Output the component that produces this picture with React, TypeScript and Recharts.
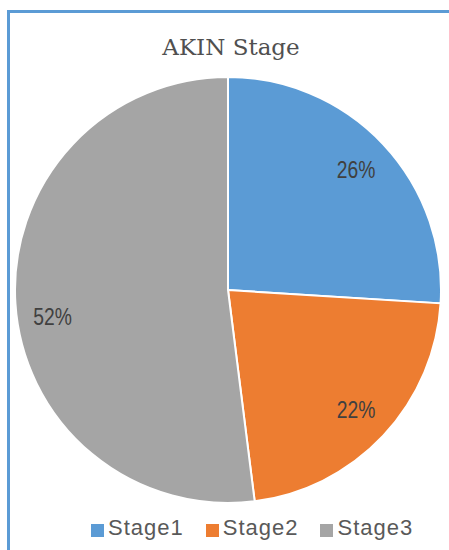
import { PieChart, Pie, Cell, Legend } from "recharts";

const stages = ["Stage1", "Stage2", "Stage3"];
const shares = [26, 22, 52];
const COLORS = ["#5b9bd5", "#ed7d31", "#a5a5a5"];
// Excel's best-fit placement pushes the big slice label a bit lower
const LABEL_NUDGE_Y = [0, 0, 16];

const data = stages.map((name, i) => ({ name, value: shares[i] }));

const RAD = Math.PI / 180;

const renderLabel = (props: any) => {
  const { cx, cy, midAngle, outerRadius, percent, index } = props;
  const r = outerRadius * 0.825;
  const x = cx + r * Math.cos(-midAngle * RAD);
  const y = cy + r * Math.sin(-midAngle * RAD) + (LABEL_NUDGE_Y[index] || 0);
  // narrow look, like the original label font
  return (
    <text
      x={0}
      y={0}
      transform={`translate(${x},${y}) scale(0.84,1)`}
      fill="#404040"
      textAnchor="middle"
      dominantBaseline="central"
      style={{
        fontFamily: "'Liberation Sans', Arial, sans-serif",
        fontSize: 23,
      }}
    >
      {`${Math.round(percent * 100)}%`}
    </text>
  );
};

const renderLegend = () => (
  <div
    style={{
      display: "flex",
      paddingLeft: 91,
      fontFamily: "'Liberation Sans', Arial, sans-serif",
      fontSize: 22,
      letterSpacing: 1,
      color: "#595959",
      lineHeight: "26px",
    }}
  >
    {stages.map((s, i) => (
      <div
        key={s}
        style={{ display: "flex", alignItems: "center", marginRight: 22 }}
      >
        <span
          style={{
            display: "inline-block",
            width: 13,
            height: 13,
            background: COLORS[i],
            marginRight: 4,
            marginTop: 4,
          }}
        />
        <span>{s}</span>
      </div>
    ))}
  </div>
);

export default function App() {
  return (
    <div
      style={{
        position: "absolute",
        left: 0,
        top: 0,
        width: 449,
        height: 550,
        overflow: "hidden",
        background: "#fff",
      }}
    >
      <div
        style={{
          position: "absolute",
          left: 7,
          top: 10,
          width: 460,
          height: 560,
          borderLeft: "3px solid #5b9bd5",
          borderTop: "3px solid #5b9bd5",
        }}
      />
      <div
        style={{
          position: "absolute",
          left: 0,
          top: 34,
          width: 462,
          textAlign: "center",
          fontFamily: "'DejaVu Serif', serif",
          fontSize: 23,
          color: "#505050",
        }}
      >
        AKIN Stage
      </div>
      <div style={{ position: "absolute", left: 0, top: 0 }}>
        <PieChart
          width={449}
          height={550}
          margin={{ top: 0, right: 0, bottom: 0, left: 0 }}
        >
          <Pie
            data={data}
            dataKey="value"
            nameKey="name"
            cx={228}
            cy={290}
            outerRadius={213}
            startAngle={90}
            endAngle={-270}
            stroke="#ffffff"
            strokeWidth={2}
            labelLine={false}
            label={renderLabel}
            isAnimationActive={false}
          >
            {data.map((_, i) => (
              <Cell key={`cell-${i}`} fill={COLORS[i]} />
            ))}
          </Pie>
          <Legend
            content={renderLegend}
            wrapperStyle={{ position: "absolute", left: 0, top: 515, width: 449 }}
          />
        </PieChart>
      </div>
    </div>
  );
}
